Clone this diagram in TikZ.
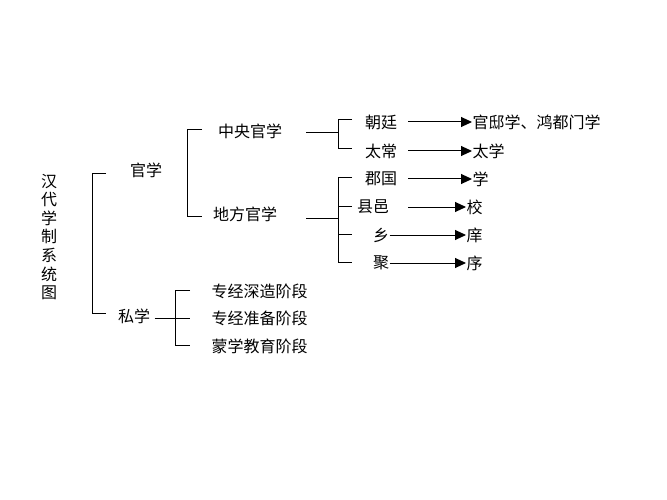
\documentclass[tikz,border=0pt]{standalone}
\usepackage{fontspec}
\setmainfont{Noto Sans CJK SC}
\usetikzlibrary{arrows.meta}
\begin{document}
\begin{tikzpicture}[x=1pt,y=-1pt,line width=1pt,
  t/.style={inner sep=0pt,font=\fontsize{16}{16}\selectfont},
  tl/.style={t,anchor=west},
  arr/.style={-{Triangle[length=11pt,width=10pt]}}]
\useasboundingbox (0,0) rectangle (667,500);
\node[t,align=center,font=\fontsize{16}{18.6}\selectfont] (title) at (49,237) {汉\\代\\学\\制\\系\\统\\图};
% bracket 1
\coordinate (b1t) at (92,174); \coordinate (b1b) at (92,313);
\draw (106,174) -- (b1t) -- (b1b) -- (106,313);
\node[t] (gx) at (146,170) {官学};
\node[t] (sx) at (134,316) {私学};
% bracket 2
\draw (202,130) -- (187,130) -- (187,216) -- (202,216);
\node[t] (zy) at (250,131) {中央官学};
\node[t] (df) at (245,214) {地方官学};
% central
\draw (306,133) -- (338,133);
\draw (352,120) -- (338,120) -- (338,149) -- (352,149);
\node[t] (ct) at (381,122) {朝廷};
\node[t] (tc) at (381,151) {太常};
\node[tl] (gd) at (472,122) {官邸学、鸿都门学};
\node[tl] (tx) at (472,151) {太学};
\draw[arr] (408,122) -- (gd.west);
\draw[arr] (408,151) -- (tx.west);
% local
\draw (306,218) -- (338,218);
\draw (352,178) -- (338,178) -- (338,262) -- (352,262);
\draw (338,206) -- (352,206);
\draw (338,234) -- (352,234);
\node[t] (jg) at (381,179) {郡国};
\node[t] (xy) at (373,207) {县邑};
\node[t] (x) at (381,235) {乡};
\node[t] (j) at (381,263) {聚};
\node[tl] (xue) at (472,179) {学};
\node[tl] (xiao) at (466,207) {校};
\node[tl] (xiang) at (466,235) {庠};
\node[tl] (xu) at (466,263) {序};
\draw[arr] (408,179) -- (xue.west);
\draw[arr] (408,207) -- (xiao.west);
\draw[arr] (x.east) -- (xiang.west);
\draw[arr] (j.east) -- (xu.west);
% private
\draw (sx.east) ++(4,2) -- (190,318);
\draw (190,290) -- (175,290) -- (175,345) -- (190,345);
\node[tl] (a1) at (211,291) {专经深造阶段};
\node[tl] (a2) at (211,318) {专经准备阶段};
\node[tl] (a3) at (211,346) {蒙学教育阶段};
\end{tikzpicture}
\end{document}
